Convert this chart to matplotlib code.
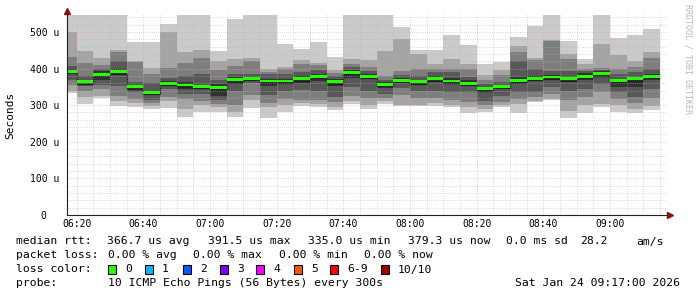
import numpy as np
import matplotlib.pyplot as plt
from matplotlib.patches import Rectangle

plt.rcParams['font.family'] = ['DejaVu Sans Mono']

W, H = 697, 297

# 5 minute steps, first step starts 06:15 (minutes after midnight)
start_min = 6 * 60 + 15
step_min = 5

# 10 pings per step, sorted (ping1 = fastest ... ping10 = slowest), microseconds
ping1 = [332, 302, 320, 298, 295, 290, 291, 268, 282, 280, 268, 292, 266, 281, 298, 295, 288, 304,
         290, 304, 298, 298, 298, 295, 278, 280, 294, 278, 308, 313, 266, 279, 294, 281, 279, 287]
ping2 = [340, 322, 326, 312, 305, 298, 312, 290, 300, 296, 280, 314, 295, 300, 305, 302, 296, 312,
         300, 312, 301, 301, 305, 300, 295, 290, 300, 302, 312, 318, 285, 300, 304, 300, 290, 298]
ping3 = [355, 340, 344, 325, 318, 306, 322, 318, 312, 302, 300, 328, 305, 318, 315, 314, 310, 325,
         320, 320, 328, 320, 320, 315, 310, 300, 310, 318, 322, 330, 315, 322, 335, 318, 305, 320]
ping4 = [368, 352, 356, 352, 335, 315, 345, 330, 330, 315, 340, 360, 328, 340, 342, 340, 322, 350,
         340, 330, 346, 340, 340, 335, 335, 312, 325, 335, 335, 350, 340, 345, 358, 335, 322, 345]
ping5 = [385, 360, 370, 385, 345, 330, 355, 345, 348, 325, 358, 368, 352, 358, 360, 365, 352, 375,
         372, 348, 362, 358, 362, 358, 352, 340, 345, 358, 365, 368, 365, 368, 378, 350, 350, 368]
ping6 = [398, 370, 392, 398, 355, 340, 365, 362, 356, 358, 376, 378, 372, 372, 380, 385, 372, 395,
         384, 362, 374, 370, 380, 375, 368, 350, 356, 378, 380, 382, 378, 388, 392, 372, 375, 385]
ping7 = [407, 380, 398, 421, 362, 360, 375, 380, 385, 369, 385, 385, 385, 385, 390, 395, 380, 405,
         392, 370, 383, 380, 390, 390, 378, 358, 362, 421, 398, 392, 392, 392, 396, 385, 390, 398]
ping8 = [432, 415, 410, 444, 418, 385, 401, 414, 428, 396, 407, 421, 391, 398, 412, 410, 389, 412,
         405, 381, 393, 400, 398, 400, 398, 370, 382, 446, 422, 476, 426, 398, 402, 400, 405, 428]
ping9 = [501, 448, 428, 452, 421, 402, 501, 446, 452, 421, 425, 430, 400, 405, 423, 416, 397, 425,
         423, 448, 481, 440, 412, 425, 412, 383, 395, 462, 430, 478, 439, 412, 467, 437, 421, 446]
ping10 = [546, 546, 546, 546, 473, 473, 522, 546, 546, 448, 535, 546, 546, 468, 453, 473, 432, 546,
          546, 546, 513, 451, 451, 492, 464, 412, 418, 487, 516, 546, 474, 425, 546, 483, 492, 507]

median = [391.5, 364, 385, 391, 350, 335, 360, 355, 352, 349, 369, 373, 366, 366, 372, 378, 364, 389,
          378, 356, 368, 364, 372, 366, 360, 345, 351, 368, 374, 377, 372, 379, 386, 367, 372, 379.3]

smoke_shades = ['#cacaca', '#a4a4a4', '#7e7e7e', '#585858', '#323232']

time_ticks = [380, 400, 420, 440, 460, 480, 500, 520, 540]
time_labels = ['06:20', '06:40', '07:00', '07:20', '07:40', '08:00', '08:20', '08:40', '09:00']
y_ticks = [0, 100, 200, 300, 400, 500]
y_labels = ['0  ', '100 u', '200 u', '300 u', '400 u', '500 u']

stats_rtt = ['366.7 us avg', '391.5 us max', '335.0 us min', '379.3 us now', '0.0 ms sd', '28.2', 'am/s']
stats_loss = ['0.00 % avg', '0.00 % max', '0.00 % min', '0.00 % now']
loss_names = ['0', '1', '2', '3', '4', '5', '6-9', '10/10']
loss_colors = ['#26ff00', '#00b8ff', '#0059ff', '#7e00ff', '#ff00ff', '#ff5500', '#ff0000', '#a10000']

pings = np.array([ping1, ping2, ping3, ping4, ping5, ping6, ping7, ping8, ping9, ping10], dtype=float)
med = np.array(median)
edges = start_min + step_min * np.arange(len(med) + 1)

fig = plt.figure(figsize=(W / 100, H / 100), dpi=100)
fig.patch.set_facecolor('white')
ax = fig.add_axes([66.7 / W, 82 / H, 600 / W, 201 / H])

# smoke: outer pairs first, inner pairs darker
for k, shade in enumerate(smoke_shades):
    ax.stairs(pings[9 - k], edges, baseline=pings[k], fill=True, color=shade, lw=0, zorder=1)

ax.stairs(med - 5, edges, baseline=None, color='#202020', lw=0.9, zorder=2)
ax.stairs(med + 4, edges, baseline=med - 4, fill=True, color=loss_colors[0], lw=0, zorder=3)

ax.set_xlim(start_min + 2, start_min + 182)
ax.set_ylim(0, 549)
ax.set_xticks(time_ticks)
ax.set_xticklabels(time_labels)
ax.set_xticks(np.arange(380, 560, 5), minor=True)
ax.set_yticks(y_ticks)
ax.set_yticklabels(y_labels)
ax.set_yticks(np.arange(0, 560, 20), minor=True)
ax.tick_params(which='both', length=0, labelsize=7, colors='black')
ax.tick_params(axis='y', pad=5.5)
ax.tick_params(axis='x', pad=3)

ax.set_axisbelow(False)
ax.grid(which='minor', color='#b4b4b4', alpha=0.65, lw=0.6, ls=(0, (1, 1.6)))
ax.grid(which='major', color='#f0a0a0', alpha=0.75, lw=0.6, ls=(0, (1, 1.6)))

for s in ['top', 'right']:
    ax.spines[s].set_visible(False)
for s in ['left', 'bottom']:
    ax.spines[s].set_color('#202020')
    ax.spines[s].set_linewidth(0.8)
    ax.spines[s].set_zorder(4)

# axis arrows
ax.plot([1, 1.006], [0, 0], transform=ax.transAxes, color='#202020', lw=0.8, clip_on=False)
ax.plot([1.006], [0], transform=ax.transAxes, marker='>', ms=4, color='#901010', clip_on=False)
ax.plot([0, 0], [1, 1.01], transform=ax.transAxes, color='#202020', lw=0.8, clip_on=False)
ax.plot([0], [1.015], transform=ax.transAxes, marker='^', ms=4, color='#901010', clip_on=False)


def ftext(x, y, s, **kw):
    kw.setdefault('va', 'center')
    kw.setdefault('size', 8.2)
    fig.text(x / W, 1 - y / H, s, **kw)


ftext(10, 115, 'Seconds', rotation=90, ha='center', size=8)
ftext(688, 59, 'RRDTOOL / TOBI OETIKER', rotation=270, ha='center', size=6, color='#b8b8b8')

ftext(16, 241.5, 'median rtt:')
for s, x in zip(stats_rtt, [107, 207.6, 307.6, 407.6, 506, 580, 636]):
    ftext(x, 241.5, s)

ftext(16, 255.5, 'packet loss:')
for s, x in zip(stats_loss, [107.6, 193, 279, 364]):
    ftext(x, 255.5, s)

ftext(16, 269.5, 'loss color:')
box_x = [108, 145, 183, 220, 256, 294, 330, 381]
for name, c, x in zip(loss_names, loss_colors, box_x):
    fig.add_artist(Rectangle((x / W, 1 - 274 / H), 8 / W, 9 / H, facecolor=c,
                             edgecolor='black', lw=0.8, transform=fig.transFigure))
    ftext(x + 17, 269.5, name)

ftext(16, 283.5, 'probe:')
ftext(107.6, 283.5, '10 ICMP Echo Pings (56 Bytes) every 300s')
ftext(680, 283.5, 'Sat Jan 24 09:17:00 2026', ha='right')

fig.savefig('out.png', dpi=100)
